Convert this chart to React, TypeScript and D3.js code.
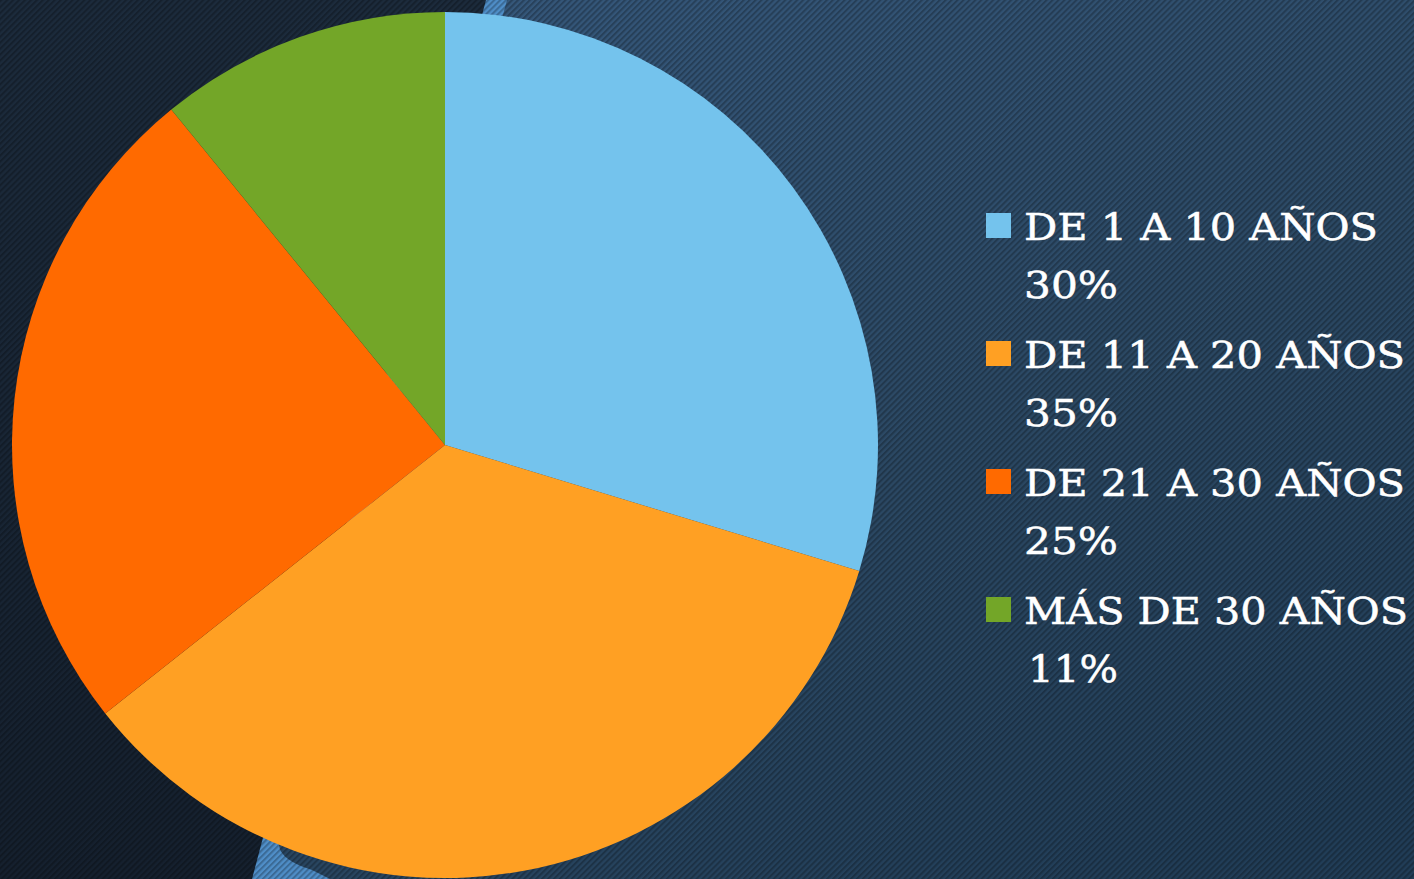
import { useRef, useEffect } from "react";
import * as d3 from "d3";

const categories = ["DE 1 A 10 AÑOS", "DE 11 A 20 AÑOS", "DE 21 A 30 AÑOS", "MÁS DE 30 AÑOS"];
const values = [30, 35, 25, 11];
const percentLabels = ["30%", "35%", "25%", "11%"];
const colors = ["#74c3ed", "#ffa023", "#ff6a00", "#73a628"];

// measured text widths of the legend lines in the original slide
const labelWidths = [354, 381, 381, 384];
const percentWidths = [94, 94, 94, 90];

export default function App() {
  const ref = useRef<SVGSVGElement>(null);

  function drawChart() {
    const width = 1414;
    const height = 879;
    const svg = d3.select(ref.current);
    svg.selectAll("*").remove();

    // Background
    const defs = svg.append("defs");
    const g1 = defs
      .append("linearGradient")
      .attr("id", "panelGrad")
      .attr("x1", 0.2)
      .attr("y1", 0)
      .attr("x2", 0.8)
      .attr("y2", 1);
    g1.append("stop").attr("offset", "0%").attr("stop-color", "#35577a");
    g1.append("stop").attr("offset", "55%").attr("stop-color", "#2b4863");
    g1.append("stop").attr("offset", "100%").attr("stop-color", "#213d57");

    const g2 = defs
      .append("linearGradient")
      .attr("id", "leftGrad")
      .attr("x1", 0)
      .attr("y1", 0)
      .attr("x2", 0)
      .attr("y2", 1);
    g2.append("stop").attr("offset", "0%").attr("stop-color", "#1c2b3c");
    g2.append("stop").attr("offset", "100%").attr("stop-color", "#15202e");

    const pat = defs
      .append("pattern")
      .attr("id", "stripes")
      .attr("patternUnits", "userSpaceOnUse")
      .attr("width", 4.2)
      .attr("height", 4.2)
      .attr("patternTransform", "rotate(45)");
    pat
      .append("rect")
      .attr("width", 2)
      .attr("height", 4.2)
      .attr("fill", "#000")
      .attr("opacity", 0.25);

    svg.append("rect").attr("width", width).attr("height", height).attr("fill", "url(#leftGrad)");
    // light blue slanted strip
    svg
      .append("path")
      .attr("d", `M486,0 L${width},0 L${width},${height} L252,${height} Z`)
      .attr("fill", "#4f8ec8");
    // main panel with rounded bottom-left corner
    svg
      .append("path")
      .attr(
        "d",
        `M507,0 L${width},0 L${width},${height} L330,${height} L312,870 Q280,860 279,845 Z`
      )
      .attr("fill", "url(#panelGrad)");
    svg.append("rect").attr("width", width).attr("height", height).attr("fill", "url(#stripes)");

    // Pie
    const cx = 445,
      cy = 445,
      r = 433;
    const pie = d3
      .pie<number>()
      .sort(null)
      .value((d) => d);
    const arc = d3.arc<d3.PieArcDatum<number>>().innerRadius(0).outerRadius(r);
    svg
      .append("g")
      .attr("transform", `translate(${cx},${cy})`)
      .selectAll("path")
      .data(pie(values))
      .join("path")
      .attr("d", arc)
      .attr("fill", (d, i) => colors[i]);

    // Legend
    const legend = svg.append("g").attr("transform", "translate(986,0)");
    const item = legend
      .selectAll("g")
      .data(categories)
      .join("g")
      .attr("transform", (d, i) => `translate(0,${240 + i * 128})`);
    item
      .append("rect")
      .attr("x", 0)
      .attr("y", -27)
      .attr("width", 25)
      .attr("height", 25)
      .attr("fill", (d, i) => colors[i]);
    item
      .append("text")
      .attr("x", 38)
      .attr("y", 0)
      .attr("fill", "#ffffff")
      .attr("stroke", "#ffffff")
      .attr("stroke-width", 0.5)
      .attr("textLength", (d, i) => labelWidths[i])
      .attr("lengthAdjust", "spacingAndGlyphs")
      .style("font-family", "'DejaVu Serif', serif")
      .style("font-size", "37px")
      .text((d) => d);
    item
      .append("text")
      .attr("x", (d, i) => (i === 3 ? 42 : 38))
      .attr("y", 58)
      .attr("fill", "#ffffff")
      .attr("stroke", "#ffffff")
      .attr("stroke-width", 0.5)
      .attr("textLength", (d, i) => percentWidths[i])
      .attr("lengthAdjust", "spacingAndGlyphs")
      .style("font-family", "'DejaVu Serif', serif")
      .style("font-size", "37px")
      .text((d, i) => percentLabels[i]);
  }

  useEffect(drawChart, []);
  return (
    <svg
      ref={ref}
      width={1414}
      height={879}
      style={{ position: "absolute", left: 0, top: 0 }}
    ></svg>
  );
}
